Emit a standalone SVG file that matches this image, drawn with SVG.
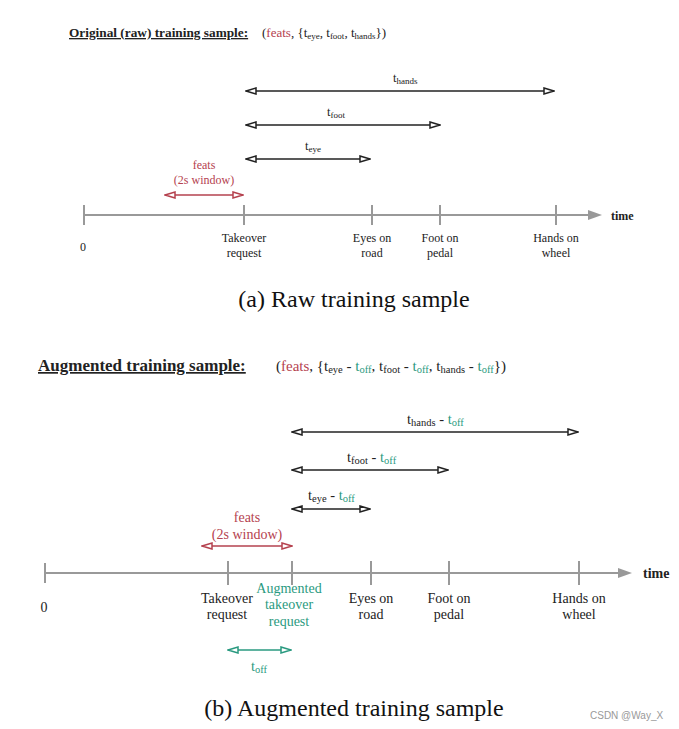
<svg xmlns="http://www.w3.org/2000/svg" width="679" height="729" viewBox="0 0 679 729">
<style>
text{font-family:"Liberation Serif","DejaVu Serif",serif;fill:#222}
.t1{font-size:12px}
.t2{font-size:14px}
.hd{font-weight:bold;text-decoration:underline}
.red{fill:#b5424f}
.grn{fill:#2a9a80}
.c{text-anchor:middle}
.cap{font-size:24px;fill:#111}
.axis{stroke:#999;stroke-width:2;fill:none}
.arr{stroke:#222;stroke-width:1.6;fill:none;marker-start:url(#oh);marker-end:url(#oh)}
.arrR{stroke:#b5424f;stroke-width:1.6;fill:none;marker-start:url(#ohR);marker-end:url(#ohR)}
.arrG{stroke:#2a9a80;stroke-width:1.6;fill:none;marker-start:url(#ohG);marker-end:url(#ohG)}
</style>
<defs>
<marker id="oh" viewBox="0 0 12 8" refX="11" refY="4" markerWidth="12" markerHeight="8" markerUnits="userSpaceOnUse" orient="auto-start-reverse"><path d="M1,1 L11,4 L1,7 Z" fill="#fff" stroke="#222" stroke-width="1.5"/></marker>
<marker id="ohR" viewBox="0 0 12 8" refX="11" refY="4" markerWidth="12" markerHeight="8" markerUnits="userSpaceOnUse" orient="auto-start-reverse"><path d="M1,1 L11,4 L1,7 Z" fill="#fff" stroke="#b5424f" stroke-width="1.5"/></marker>
<marker id="ohG" viewBox="0 0 12 8" refX="11" refY="4" markerWidth="12" markerHeight="8" markerUnits="userSpaceOnUse" orient="auto-start-reverse"><path d="M1,1 L11,4 L1,7 Z" fill="#fff" stroke="#2a9a80" stroke-width="1.5"/></marker>
<marker id="fh" viewBox="0 0 14 10" refX="2" refY="5" markerWidth="14" markerHeight="10" markerUnits="userSpaceOnUse" orient="auto"><path d="M0,0 L14,5 L0,10 Z" fill="#999"/></marker>
</defs>
<rect width="679" height="729" fill="#fff"/>

<!-- (a) header -->
<g id="headerA">
<text class="hd" x="69" y="37" font-size="13.3">Original (raw) training sample:</text>
<text x="262" y="37" font-size="13">(<tspan class="red">feats</tspan>, {t<tspan font-size="9" dy="2">eye</tspan><tspan dy="-2">, t</tspan><tspan font-size="9" dy="2">foot</tspan><tspan dy="-2">, t</tspan><tspan font-size="9" dy="2">hands</tspan><tspan dy="-2">})</tspan></text>
</g>

<g id="connectorsA">
<path class="arr" d="M246,91 H554"/>
<path class="arr" d="M246,125 H440"/>
<path class="arr" d="M246,159 H370"/>
<path class="arrR" d="M165,195 H243"/>
<path class="axis" d="M84,215 H590" marker-end="url(#fh)"/>
<path class="axis" d="M84,205 V225 M244,205 V225 M372,205 V225 M440,205 V225 M556,205 V225"/>
</g>

<g id="labelsA">
<text x="393" y="82" font-size="12.5">t<tspan font-size="9" dy="2">hands</tspan></text>
<text x="327" y="116" font-size="12.5">t<tspan font-size="9" dy="2">foot</tspan></text>
<text x="305" y="150" font-size="12.5">t<tspan font-size="9" dy="2">eye</tspan></text>
<text class="t1 red c" x="204" y="169">feats</text>
<text class="t1 red c" x="204" y="184">(2s window)</text>
<text class="t1" x="611" y="220" font-weight="bold">time</text>
</g>

<g id="nodeA0"><text class="t1 c" x="83" y="251">0</text></g>
<g id="nodeA1"><text class="t1 c" x="244" y="242">Takeover</text><text class="t1 c" x="244" y="257">request</text></g>
<g id="nodeA2"><text class="t1 c" x="372" y="242">Eyes on</text><text class="t1 c" x="372" y="257">road</text></g>
<g id="nodeA3"><text class="t1 c" x="440" y="242">Foot on</text><text class="t1 c" x="440" y="257">pedal</text></g>
<g id="nodeA4"><text class="t1 c" x="556" y="242">Hands on</text><text class="t1 c" x="556" y="257">wheel</text></g>

<text class="cap c" x="354" y="307">(a) Raw training sample</text>

<!-- (b) header -->
<g id="headerB">
<text class="hd" x="38" y="371" font-size="17">Augmented training sample:</text>
<text x="276" y="371" font-size="15">(<tspan class="red">feats</tspan>, {t<tspan font-size="10.5" dy="2">eye</tspan><tspan dy="-2"> - </tspan><tspan class="grn">t</tspan><tspan class="grn" font-size="10.5" dy="2">off</tspan><tspan dy="-2">, t</tspan><tspan font-size="10.5" dy="2">foot</tspan><tspan dy="-2"> - </tspan><tspan class="grn">t</tspan><tspan class="grn" font-size="10.5" dy="2">off</tspan><tspan dy="-2">, t</tspan><tspan font-size="10.5" dy="2">hands</tspan><tspan dy="-2"> - </tspan><tspan class="grn">t</tspan><tspan class="grn" font-size="10.5" dy="2">off</tspan><tspan dy="-2">})</tspan></text>
</g>

<g id="connectorsB">
<path class="arr" d="M292,432 H578"/>
<path class="arr" d="M292,470 H448"/>
<path class="arr" d="M292,509 H370"/>
<path class="arrR" d="M202,546 H292"/>
<path class="axis" d="M45,573 H620" marker-end="url(#fh)"/>
<path class="axis" d="M45,563 V583 M228,561 V585 M292,561 V585 M371,561 V585 M449,561 V585 M579,561 V585"/>
<path class="arrG" d="M228,650 H291"/>
</g>

<g id="labelsB">
<text x="407" y="424" font-size="14.5">t<tspan font-size="10.5" dy="2">hands</tspan><tspan dy="-2"> - </tspan><tspan class="grn">t</tspan><tspan class="grn" font-size="10.5" dy="2">off</tspan></text>
<text x="347" y="462" font-size="14.5">t<tspan font-size="10.5" dy="2">foot</tspan><tspan dy="-2"> - </tspan><tspan class="grn">t</tspan><tspan class="grn" font-size="10.5" dy="2">off</tspan></text>
<text x="308" y="500" font-size="14.5">t<tspan font-size="10.5" dy="2">eye</tspan><tspan dy="-2"> - </tspan><tspan class="grn">t</tspan><tspan class="grn" font-size="10.5" dy="2">off</tspan></text>
<text class="t2 red c" x="247" y="522">feats</text>
<text class="t2 red c" x="247" y="539">(2s window)</text>
<text class="t2" x="643" y="578" font-weight="bold">time</text>
<text class="grn" x="251" y="671" font-size="14.5">t<tspan font-size="10.5" dy="2">off</tspan></text>
</g>

<g id="nodeB0"><text class="t2 c" x="44" y="612">0</text></g>
<g id="nodeB1"><text class="t2 c" x="227" y="603">Takeover</text><text class="t2 c" x="227" y="619">request</text></g>
<g id="nodeB2"><text class="t2 c grn" x="289" y="593">Augmented</text><text class="t2 c grn" x="289" y="609">takeover</text><text class="t2 c grn" x="289" y="626">request</text></g>
<g id="nodeB3"><text class="t2 c" x="371" y="603">Eyes on</text><text class="t2 c" x="371" y="619">road</text></g>
<g id="nodeB4"><text class="t2 c" x="449" y="603">Foot on</text><text class="t2 c" x="449" y="619">pedal</text></g>
<g id="nodeB5"><text class="t2 c" x="579" y="603">Hands on</text><text class="t2 c" x="579" y="619">wheel</text></g>

<text class="cap c" x="354" y="716">(b) Augmented training sample</text>
<text x="590" y="719" style="font-family:'Liberation Sans',Arial,sans-serif;font-size:10px;fill:#999">CSDN @Way_X</text>
</svg>
